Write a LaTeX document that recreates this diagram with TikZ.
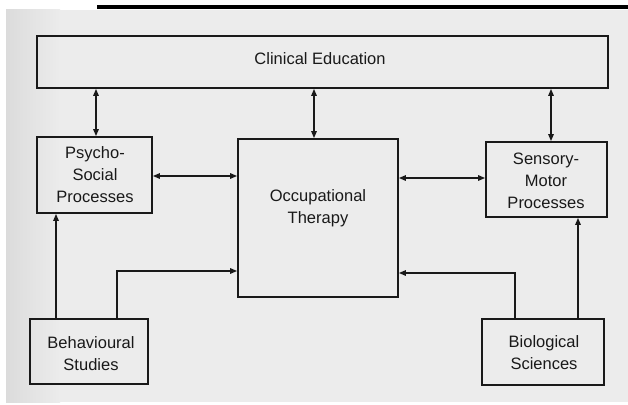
\documentclass[tikz,border=0pt]{standalone}
\usepackage{fontspec}
\setmainfont{Liberation Sans}
\usetikzlibrary{arrows.meta}
\definecolor{paper}{gray}{0.925}
\definecolor{paperedge}{gray}{0.86}
\definecolor{ink}{gray}{0.1}
\begin{document}
\begin{tikzpicture}[x=1pt,y=-1pt,
  box/.style={draw=ink,line width=1.8pt,inner sep=0pt},
  label/.style={text=ink,align=center,inner sep=0pt,font=\fontsize{16.5}{22}\selectfont},
  tip/.tip={Triangle[length=7pt,width=5.5pt]},
  link/.style={draw=ink,line width=1.4pt,tip-tip},
  feed/.style={draw=ink,line width=1.4pt,-tip}]
  % page
  \useasboundingbox (0,0) rectangle (628,404);
  \fill[white] (0,0) rectangle (628,404);
  \fill[paper] (6,10) rectangle (628,402);
  \shade[left color=paperedge, right color=paper] (6,10) rectangle (60,402);
  \fill[black] (97,5) rectangle (628,9);

  % boxes
  \node[box,minimum width=571pt,minimum height=52pt] (ce)  at (322.5,62) {};
  \node[box,minimum width=115pt,minimum height=76pt] (psy) at (94.5,175) {};
  \node[box,minimum width=160pt,minimum height=158pt] (ot) at (318,218) {};
  \node[box,minimum width=121pt,minimum height=75pt] (sen) at (546.5,179.5) {};
  \node[box,minimum width=118pt,minimum height=65pt] (beh) at (89,351.5) {};
  \node[box,minimum width=122pt,minimum height=66pt] (bio) at (543,352) {};

  % texts
  \node[label] (tce)  at (320,59)   {Clinical Education};
  \node[label] (tpsy) at (95,175)   {Psycho-\\Social\\Processes};
  \node[label] (tot)  at (318,208)  {Occupational\\Therapy};
  \node[label] (tsen) at (546,181)  {Sensory-\\Motor\\Processes};
  \node[label] (tbeh) at (91,354)   {Behavioural\\Studies};
  \node[label] (tbio) at (544,353)  {Biological\\Sciences};

  % columns and rows of the connectors
  \coordinate (cpsy) at (96,0);
  \coordinate (cot)  at (314,0);
  \coordinate (csen) at (551,0);
  \coordinate (cb1)  at (56,0);
  \coordinate (cb2)  at (117,0);
  \coordinate (cs1)  at (515,0);
  \coordinate (cs2)  at (578,0);
  \coordinate (rpo)  at (0,176);
  \coordinate (ros)  at (0,178);
  \coordinate (rbo)  at (0,271);
  \coordinate (rso)  at (0,273);

  % two-way links
  \draw[link] (ce.south -| cpsy) -- (psy.north -| cpsy);
  \draw[link] (ce.south -| cot)  -- (ot.north -| cot);
  \draw[link] (ce.south -| csen) -- (sen.north -| csen);
  \draw[link] (psy.east |- rpo) -- (ot.west |- rpo);
  \draw[link] (ot.east |- ros) -- (sen.west |- ros);

  % one-way inputs from the sciences
  \draw[feed] (beh.north -| cb1) -- (psy.south -| cb1);
  \draw[feed] (beh.north -| cb2) |- (ot.west |- rbo);
  \draw[feed] (bio.north -| cs2) -- (sen.south -| cs2);
  \draw[feed] (bio.north -| cs1) |- (ot.east |- rso);
\end{tikzpicture}
\end{document}
